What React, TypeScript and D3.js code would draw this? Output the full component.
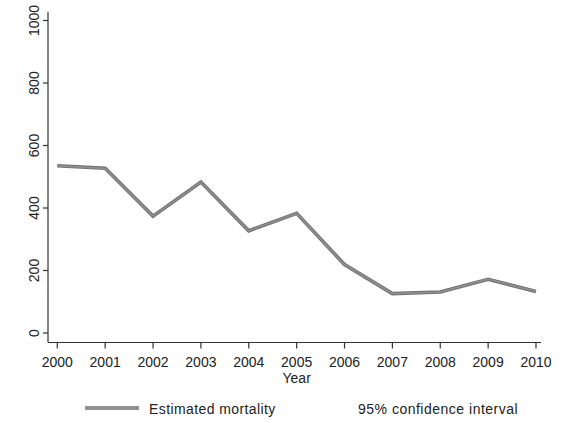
import React from "react";
import * as d3 from "d3";

const years = [2000, 2001, 2002, 2003, 2004, 2005, 2006, 2007, 2008, 2009, 2010];
const mortality = [535, 527, 374, 483, 327, 383, 219, 126, 131, 172, 133];
const yTicks = [0, 200, 400, 600, 800, 1000];
const legendLabels = ["Estimated mortality", "95% confidence interval"];

const W = 566;
const H = 423;

export default function App() {
  const x = d3.scaleLinear().domain([2000, 2010]).range([57.3, 536]);
  const y = d3.scaleLinear().domain([0, 1000]).range([333, 20.5]);
  const line = d3
    .line<number>()
    .x((_, i) => x(years[i]))
    .y((d) => y(d));
  const path = line(mortality) || "";
  const font = "'Liberation Sans', Arial, sans-serif";
  const axisX0 = 48;
  const axisY0 = 342.5;
  return (
    <svg
      width={W}
      height={H}
      style={{ position: "absolute", left: 0, top: 0, background: "#fff" }}
      fontFamily={font}
    >
      <rect x={0} y={0} width={W} height={H} fill="#fff" />
      {/* y axis */}
      <line x1={axisX0} x2={axisX0} y1={12} y2={axisY0} stroke="#333" strokeWidth={1.2} />
      {yTicks.map((t) => (
        <g key={t}>
          <line x1={axisX0 - 5} x2={axisX0} y1={y(t)} y2={y(t)} stroke="#333" strokeWidth={1.2} />
          <text
            transform={`translate(${38.5},${y(t)}) rotate(-90)`}
            textAnchor="middle"
            fontSize={14}
            fill="#222"
          >
            {t}
          </text>
        </g>
      ))}
      {/* x axis */}
      <line x1={axisX0} x2={541} y1={axisY0} y2={axisY0} stroke="#333" strokeWidth={1.2} />
      {years.map((yr) => (
        <g key={yr}>
          <line x1={x(yr)} x2={x(yr)} y1={axisY0} y2={axisY0 + 6} stroke="#333" strokeWidth={1.2} />
          <text x={x(yr)} y={367} textAnchor="middle" fontSize={14} fill="#222">
            {yr}
          </text>
        </g>
      ))}
      <text x={x(2005)} y={382.5} textAnchor="middle" fontSize={14} fill="#222">
        Year
      </text>
      {/* data line */}
      <path d={path} fill="none" stroke="#707070" strokeWidth={3.6} strokeLinejoin="miter" />
      <path d={path} fill="none" stroke="#8e8e8e" strokeWidth={1.8} strokeLinejoin="miter" />
      {/* legend */}
      <line x1={85} x2={139} y1={408} y2={408} stroke="#707070" strokeWidth={3.6} />
      <line x1={85} x2={139} y1={408} y2={408} stroke="#8e8e8e" strokeWidth={1.8} />
      <text x={149} y={414} fontSize={14} letterSpacing={0.4} fill="#222">
        {legendLabels[0]}
      </text>
      <text x={358} y={414} fontSize={14} letterSpacing={0.5} fill="#222">
        {legendLabels[1]}
      </text>
    </svg>
  );
}
